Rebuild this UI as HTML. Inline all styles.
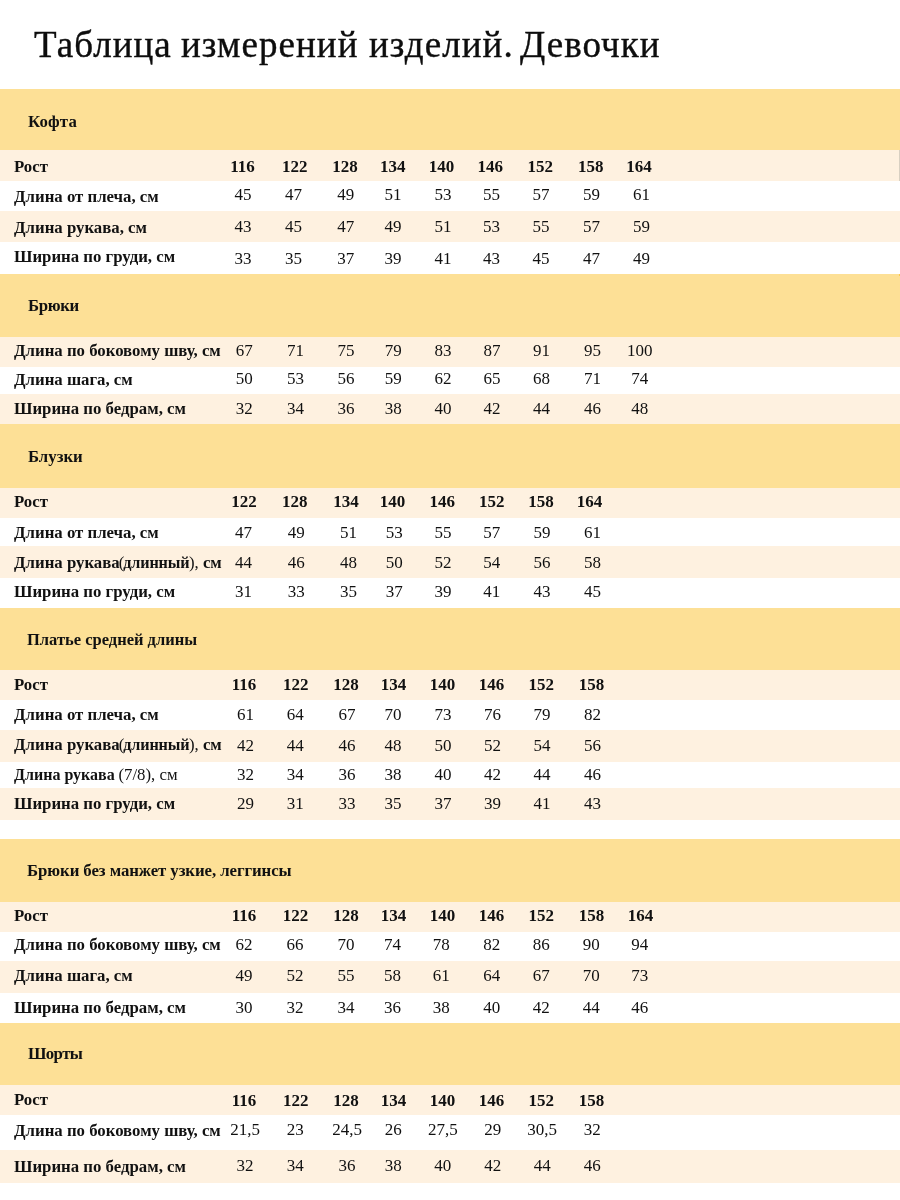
<!DOCTYPE html>
<html lang="ru"><head><meta charset="utf-8"><title>Таблица измерений изделий. Девочки</title>
<style>
html,body{margin:0;padding:0;background:#fff;}
body{width:900px;height:1200px;position:relative;overflow:hidden;will-change:transform;font-family:"Liberation Serif",serif;color:#111;}
.b{position:absolute;left:0;width:900px;}
.t{position:absolute;white-space:nowrap;line-height:20px;}
.title{position:absolute;white-space:nowrap;font-size:37px;line-height:40px;letter-spacing:1.05px;color:#0d0d0d;-webkit-text-stroke:0.4px #0d0d0d;}
.h{font-size:16.8px;font-weight:700;}
.l{font-size:16.8px;font-weight:700;}
.n{font-size:17px;text-align:center;width:60px;}
.nb{font-weight:700;}
.r{font-weight:400;}
</style></head><body>
<div class="title" style="left:34px;top:25px">Таблица</div>
<div class="title" style="left:181px;top:25px">измерений</div>
<div class="title" style="left:369px;top:25px">изделий.</div>
<div class="title" style="left:520px;top:25px">Девочки</div>
<div class="b" style="top:89px;height:61px;background:#fde096"></div>
<div class="t h" style="left:28px;top:112px;letter-spacing:0.15px">Кофта</div>
<div class="b" style="top:150px;height:31px;background:#fef1e0"></div>
<div class="t l" style="left:14px;top:157px">Рост</div>
<div class="t n nb" style="left:212.6px;top:157.00px">116</div>
<div class="t n nb" style="left:264.7px;top:157.00px">122</div>
<div class="t n nb" style="left:315.0px;top:157.00px">128</div>
<div class="t n nb" style="left:362.8px;top:157.00px">134</div>
<div class="t n nb" style="left:411.4px;top:157.00px">140</div>
<div class="t n nb" style="left:460.3px;top:157.00px">146</div>
<div class="t n nb" style="left:510.3px;top:157.00px">152</div>
<div class="t n nb" style="left:560.7px;top:157.00px">158</div>
<div class="t n nb" style="left:609.0px;top:157.00px">164</div>
<div class="t l" style="left:14px;top:187px">Длина от плеча, см</div>
<div class="t n" style="left:213.0px;top:185.00px">45</div>
<div class="t n" style="left:263.6px;top:185.00px">47</div>
<div class="t n" style="left:315.7px;top:185.00px">49</div>
<div class="t n" style="left:363.1px;top:185.00px">51</div>
<div class="t n" style="left:413.0px;top:185.00px">53</div>
<div class="t n" style="left:461.5px;top:185.00px">55</div>
<div class="t n" style="left:511.0px;top:185.00px">57</div>
<div class="t n" style="left:561.5px;top:185.00px">59</div>
<div class="t n" style="left:611.5px;top:185.00px">61</div>
<div class="b" style="top:211px;height:31px;background:#fef1e0"></div>
<div class="t l" style="left:14px;top:218px">Длина рукава, см</div>
<div class="t n" style="left:213.0px;top:217.00px">43</div>
<div class="t n" style="left:263.6px;top:217.00px">45</div>
<div class="t n" style="left:315.7px;top:217.00px">47</div>
<div class="t n" style="left:363.1px;top:217.00px">49</div>
<div class="t n" style="left:413.0px;top:217.00px">51</div>
<div class="t n" style="left:461.5px;top:217.00px">53</div>
<div class="t n" style="left:511.0px;top:217.00px">55</div>
<div class="t n" style="left:561.5px;top:217.00px">57</div>
<div class="t n" style="left:611.5px;top:217.00px">59</div>
<div class="t l" style="left:14px;top:247px">Ширина по груди, см</div>
<div class="t n" style="left:213.0px;top:249.00px">33</div>
<div class="t n" style="left:263.6px;top:249.00px">35</div>
<div class="t n" style="left:315.7px;top:249.00px">37</div>
<div class="t n" style="left:363.1px;top:249.00px">39</div>
<div class="t n" style="left:413.0px;top:249.00px">41</div>
<div class="t n" style="left:461.5px;top:249.00px">43</div>
<div class="t n" style="left:511.0px;top:249.00px">45</div>
<div class="t n" style="left:561.5px;top:249.00px">47</div>
<div class="t n" style="left:611.5px;top:249.00px">49</div>
<div class="b" style="top:274px;height:63px;background:#fde096"></div>
<div class="t h" style="left:28px;top:296px;letter-spacing:-0.35px">Брюки</div>
<div class="b" style="top:337px;height:30px;background:#fef1e0"></div>
<div class="t l" style="left:14px;top:341px">Длина по боковому шву, см</div>
<div class="t n" style="left:214.2px;top:341.00px">67</div>
<div class="t n" style="left:265.5px;top:341.00px">71</div>
<div class="t n" style="left:316.0px;top:341.00px">75</div>
<div class="t n" style="left:363.3px;top:341.00px">79</div>
<div class="t n" style="left:413.1px;top:341.00px">83</div>
<div class="t n" style="left:461.9px;top:341.00px">87</div>
<div class="t n" style="left:511.5px;top:341.00px">91</div>
<div class="t n" style="left:562.5px;top:341.00px">95</div>
<div class="t n" style="left:609.8px;top:341.00px">100</div>
<div class="t l" style="left:14px;top:370px">Длина шага, см</div>
<div class="t n" style="left:214.2px;top:369.00px">50</div>
<div class="t n" style="left:265.5px;top:369.00px">53</div>
<div class="t n" style="left:316.0px;top:369.00px">56</div>
<div class="t n" style="left:363.3px;top:369.00px">59</div>
<div class="t n" style="left:413.1px;top:369.00px">62</div>
<div class="t n" style="left:461.9px;top:369.00px">65</div>
<div class="t n" style="left:511.5px;top:369.00px">68</div>
<div class="t n" style="left:562.5px;top:369.00px">71</div>
<div class="t n" style="left:609.8px;top:369.00px">74</div>
<div class="b" style="top:394px;height:30px;background:#fef1e0"></div>
<div class="t l" style="left:14px;top:399px">Ширина по бедрам, см</div>
<div class="t n" style="left:214.2px;top:399.00px">32</div>
<div class="t n" style="left:265.5px;top:399.00px">34</div>
<div class="t n" style="left:316.0px;top:399.00px">36</div>
<div class="t n" style="left:363.3px;top:399.00px">38</div>
<div class="t n" style="left:413.1px;top:399.00px">40</div>
<div class="t n" style="left:461.9px;top:399.00px">42</div>
<div class="t n" style="left:511.5px;top:399.00px">44</div>
<div class="t n" style="left:562.5px;top:399.00px">46</div>
<div class="t n" style="left:609.8px;top:399.00px">48</div>
<div class="b" style="top:424px;height:64px;background:#fde096"></div>
<div class="t h" style="left:28px;top:447px">Блузки</div>
<div class="b" style="top:488px;height:30px;background:#fef1e0"></div>
<div class="t l" style="left:14px;top:492px">Рост</div>
<div class="t n nb" style="left:213.9px;top:492.00px">122</div>
<div class="t n nb" style="left:264.7px;top:492.00px">128</div>
<div class="t n nb" style="left:316.0px;top:492.00px">134</div>
<div class="t n nb" style="left:362.5px;top:492.00px">140</div>
<div class="t n nb" style="left:412.3px;top:492.00px">146</div>
<div class="t n nb" style="left:461.7px;top:492.00px">152</div>
<div class="t n nb" style="left:511.0px;top:492.00px">158</div>
<div class="t n nb" style="left:559.4px;top:492.00px">164</div>
<div class="t l" style="left:14px;top:523px">Длина от плеча, см</div>
<div class="t n" style="left:213.6px;top:523.00px">47</div>
<div class="t n" style="left:266.2px;top:523.00px">49</div>
<div class="t n" style="left:318.5px;top:523.00px">51</div>
<div class="t n" style="left:364.2px;top:523.00px">53</div>
<div class="t n" style="left:413.1px;top:523.00px">55</div>
<div class="t n" style="left:461.7px;top:523.00px">57</div>
<div class="t n" style="left:511.9px;top:523.00px">59</div>
<div class="t n" style="left:562.5px;top:523.00px">61</div>
<div class="b" style="top:546px;height:32px;background:#fef1e0"></div>
<div class="t l" style="left:14px;top:553px">Длина рукава<span class="r" style="margin-left:-1px">(</span><span style="font-size:16.2px;letter-spacing:-0.15px;margin-left:-1px">длинный</span><span class="r" style="margin-left:-0.5px">)</span><span class="r">,</span> см</div>
<div class="t n" style="left:213.6px;top:553.00px">44</div>
<div class="t n" style="left:266.2px;top:553.00px">46</div>
<div class="t n" style="left:318.5px;top:553.00px">48</div>
<div class="t n" style="left:364.2px;top:553.00px">50</div>
<div class="t n" style="left:413.1px;top:553.00px">52</div>
<div class="t n" style="left:461.7px;top:553.00px">54</div>
<div class="t n" style="left:511.9px;top:553.00px">56</div>
<div class="t n" style="left:562.5px;top:553.00px">58</div>
<div class="t l" style="left:14px;top:582px">Ширина по груди, см</div>
<div class="t n" style="left:213.6px;top:582.00px">31</div>
<div class="t n" style="left:266.2px;top:582.00px">33</div>
<div class="t n" style="left:318.5px;top:582.00px">35</div>
<div class="t n" style="left:364.2px;top:582.00px">37</div>
<div class="t n" style="left:413.1px;top:582.00px">39</div>
<div class="t n" style="left:461.7px;top:582.00px">41</div>
<div class="t n" style="left:511.9px;top:582.00px">43</div>
<div class="t n" style="left:562.5px;top:582.00px">45</div>
<div class="b" style="top:608px;height:62px;background:#fde096"></div>
<div class="t h" style="left:27px;top:630px;font-size:16.5px">Платье средней длины</div>
<div class="b" style="top:670px;height:30px;background:#fef1e0"></div>
<div class="t l" style="left:14px;top:675px">Рост</div>
<div class="t n nb" style="left:214.1px;top:675.00px">116</div>
<div class="t n nb" style="left:265.7px;top:675.00px">122</div>
<div class="t n nb" style="left:316.0px;top:675.00px">128</div>
<div class="t n nb" style="left:363.5px;top:675.00px">134</div>
<div class="t n nb" style="left:412.6px;top:675.00px">140</div>
<div class="t n nb" style="left:461.4px;top:675.00px">146</div>
<div class="t n nb" style="left:511.3px;top:675.00px">152</div>
<div class="t n nb" style="left:561.4px;top:675.00px">158</div>
<div class="t l" style="left:14px;top:705px">Длина от плеча, см</div>
<div class="t n" style="left:215.6px;top:705.00px">61</div>
<div class="t n" style="left:265.2px;top:705.00px">64</div>
<div class="t n" style="left:317.1px;top:705.00px">67</div>
<div class="t n" style="left:363.1px;top:705.00px">70</div>
<div class="t n" style="left:413.1px;top:705.00px">73</div>
<div class="t n" style="left:462.4px;top:705.00px">76</div>
<div class="t n" style="left:511.9px;top:705.00px">79</div>
<div class="t n" style="left:562.5px;top:705.00px">82</div>
<div class="b" style="top:730px;height:32px;background:#fef1e0"></div>
<div class="t l" style="left:14px;top:735px">Длина рукава<span class="r" style="margin-left:-1px">(</span><span style="font-size:16.2px;letter-spacing:-0.15px;margin-left:-1px">длинный</span><span class="r" style="margin-left:-0.5px">)</span><span class="r">,</span> см</div>
<div class="t n" style="left:215.6px;top:736.00px">42</div>
<div class="t n" style="left:265.2px;top:736.00px">44</div>
<div class="t n" style="left:317.1px;top:736.00px">46</div>
<div class="t n" style="left:363.1px;top:736.00px">48</div>
<div class="t n" style="left:413.1px;top:736.00px">50</div>
<div class="t n" style="left:462.4px;top:736.00px">52</div>
<div class="t n" style="left:511.9px;top:736.00px">54</div>
<div class="t n" style="left:562.5px;top:736.00px">56</div>
<div class="t l" style="left:14px;top:765px"><span style="font-size:16px">Длина рукава</span><span class="r" style="margin-left:-0.5px"> (7/8), см</span></div>
<div class="t n" style="left:215.6px;top:765.00px">32</div>
<div class="t n" style="left:265.2px;top:765.00px">34</div>
<div class="t n" style="left:317.1px;top:765.00px">36</div>
<div class="t n" style="left:363.1px;top:765.00px">38</div>
<div class="t n" style="left:413.1px;top:765.00px">40</div>
<div class="t n" style="left:462.4px;top:765.00px">42</div>
<div class="t n" style="left:511.9px;top:765.00px">44</div>
<div class="t n" style="left:562.5px;top:765.00px">46</div>
<div class="b" style="top:788px;height:32px;background:#fef1e0"></div>
<div class="t l" style="left:14px;top:794px">Ширина по груди, см</div>
<div class="t n" style="left:215.6px;top:794.00px">29</div>
<div class="t n" style="left:265.2px;top:794.00px">31</div>
<div class="t n" style="left:317.1px;top:794.00px">33</div>
<div class="t n" style="left:363.1px;top:794.00px">35</div>
<div class="t n" style="left:413.1px;top:794.00px">37</div>
<div class="t n" style="left:462.4px;top:794.00px">39</div>
<div class="t n" style="left:511.9px;top:794.00px">41</div>
<div class="t n" style="left:562.5px;top:794.00px">43</div>
<div class="b" style="top:839px;height:63px;background:#fde096"></div>
<div class="t h" style="left:27px;top:861px;letter-spacing:-0.07px">Брюки без манжет узкие, леггинсы</div>
<div class="b" style="top:902px;height:30px;background:#fef1e0"></div>
<div class="t l" style="left:14px;top:906px">Рост</div>
<div class="t n nb" style="left:214.1px;top:906.00px">116</div>
<div class="t n nb" style="left:265.4px;top:906.00px">122</div>
<div class="t n nb" style="left:316.0px;top:906.00px">128</div>
<div class="t n nb" style="left:363.5px;top:906.00px">134</div>
<div class="t n nb" style="left:412.6px;top:906.00px">140</div>
<div class="t n nb" style="left:461.4px;top:906.00px">146</div>
<div class="t n nb" style="left:511.3px;top:906.00px">152</div>
<div class="t n nb" style="left:561.4px;top:906.00px">158</div>
<div class="t n nb" style="left:610.6px;top:906.00px">164</div>
<div class="t l" style="left:14px;top:935px">Длина по боковому шву, см</div>
<div class="t n" style="left:214.1px;top:935.00px">62</div>
<div class="t n" style="left:264.9px;top:935.00px">66</div>
<div class="t n" style="left:316.0px;top:935.00px">70</div>
<div class="t n" style="left:362.5px;top:935.00px">74</div>
<div class="t n" style="left:411.2px;top:935.00px">78</div>
<div class="t n" style="left:461.8px;top:935.00px">82</div>
<div class="t n" style="left:511.3px;top:935.00px">86</div>
<div class="t n" style="left:561.3px;top:935.00px">90</div>
<div class="t n" style="left:609.7px;top:935.00px">94</div>
<div class="b" style="top:961px;height:32px;background:#fef1e0"></div>
<div class="t l" style="left:14px;top:966px">Длина шага, см</div>
<div class="t n" style="left:214.1px;top:966.00px">49</div>
<div class="t n" style="left:264.9px;top:966.00px">52</div>
<div class="t n" style="left:316.0px;top:966.00px">55</div>
<div class="t n" style="left:362.5px;top:966.00px">58</div>
<div class="t n" style="left:411.2px;top:966.00px">61</div>
<div class="t n" style="left:461.8px;top:966.00px">64</div>
<div class="t n" style="left:511.3px;top:966.00px">67</div>
<div class="t n" style="left:561.3px;top:966.00px">70</div>
<div class="t n" style="left:609.7px;top:966.00px">73</div>
<div class="t l" style="left:14px;top:998px">Ширина по бедрам, см</div>
<div class="t n" style="left:214.1px;top:998.00px">30</div>
<div class="t n" style="left:264.9px;top:998.00px">32</div>
<div class="t n" style="left:316.0px;top:998.00px">34</div>
<div class="t n" style="left:362.5px;top:998.00px">36</div>
<div class="t n" style="left:411.2px;top:998.00px">38</div>
<div class="t n" style="left:461.8px;top:998.00px">40</div>
<div class="t n" style="left:511.3px;top:998.00px">42</div>
<div class="t n" style="left:561.3px;top:998.00px">44</div>
<div class="t n" style="left:609.7px;top:998.00px">46</div>
<div class="b" style="top:1023px;height:62px;background:#fde096"></div>
<div class="t h" style="left:28px;top:1044px;letter-spacing:-0.6px">Шорты</div>
<div class="b" style="top:1085px;height:30px;background:#fef1e0"></div>
<div class="t l" style="left:14px;top:1090px">Рост</div>
<div class="t n nb" style="left:214.1px;top:1091.00px">116</div>
<div class="t n nb" style="left:265.7px;top:1091.00px">122</div>
<div class="t n nb" style="left:316.0px;top:1091.00px">128</div>
<div class="t n nb" style="left:363.5px;top:1091.00px">134</div>
<div class="t n nb" style="left:412.6px;top:1091.00px">140</div>
<div class="t n nb" style="left:461.4px;top:1091.00px">146</div>
<div class="t n nb" style="left:511.3px;top:1091.00px">152</div>
<div class="t n nb" style="left:561.4px;top:1091.00px">158</div>
<div class="t l" style="left:14px;top:1121px">Длина по боковому шву, см</div>
<div class="t n" style="left:215.0px;top:1120.00px">21,5</div>
<div class="t n" style="left:265.2px;top:1120.00px">23</div>
<div class="t n" style="left:317.0px;top:1120.00px">24,5</div>
<div class="t n" style="left:363.2px;top:1120.00px">26</div>
<div class="t n" style="left:412.8px;top:1120.00px">27,5</div>
<div class="t n" style="left:462.7px;top:1120.00px">29</div>
<div class="t n" style="left:512.2px;top:1120.00px">30,5</div>
<div class="t n" style="left:562.2px;top:1120.00px">32</div>
<div class="b" style="top:1150px;height:33px;background:#fef1e0"></div>
<div class="t l" style="left:14px;top:1157px">Ширина по бедрам, см</div>
<div class="t n" style="left:215.0px;top:1156.00px">32</div>
<div class="t n" style="left:265.2px;top:1156.00px">34</div>
<div class="t n" style="left:317.0px;top:1156.00px">36</div>
<div class="t n" style="left:363.2px;top:1156.00px">38</div>
<div class="t n" style="left:412.8px;top:1156.00px">40</div>
<div class="t n" style="left:462.7px;top:1156.00px">42</div>
<div class="t n" style="left:512.2px;top:1156.00px">44</div>
<div class="t n" style="left:562.2px;top:1156.00px">46</div>
<div class="b" style="left:899px;width:1px;top:150px;height:31px;background:#d8d0c2"></div>
<div class="b" style="left:899px;width:1px;top:274px;height:2px;background:#fbc850"></div>
</body></html>
